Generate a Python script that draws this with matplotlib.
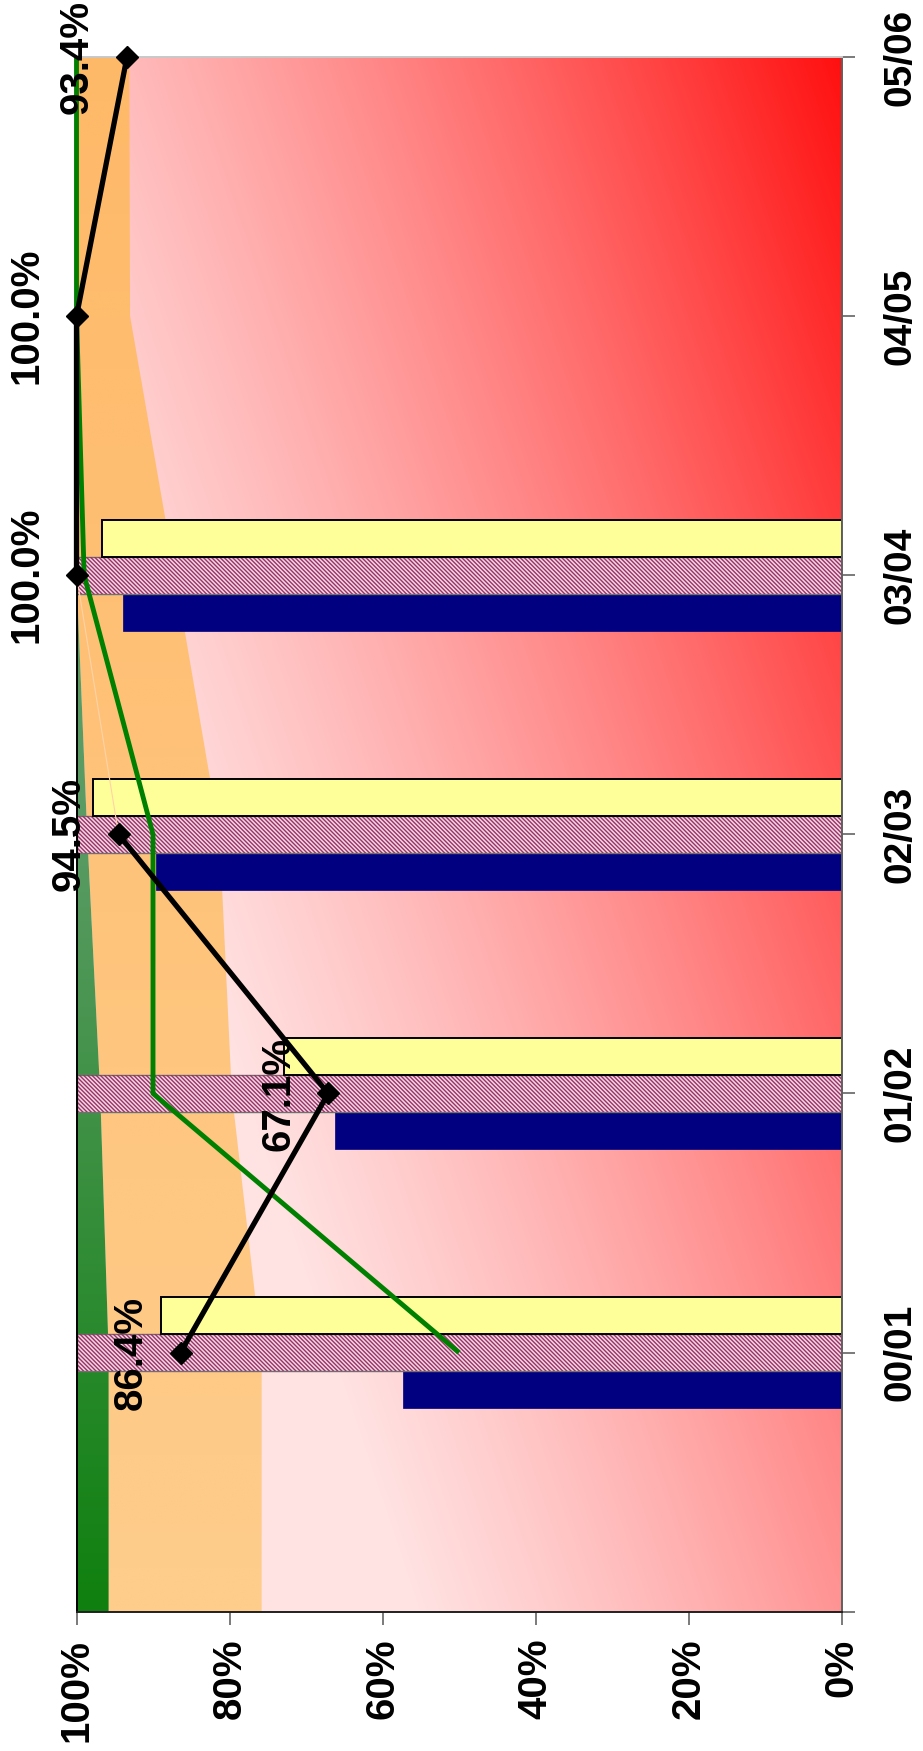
import numpy as np
import matplotlib
matplotlib.use("Agg")
import matplotlib.pyplot as plt
from matplotlib.patches import Polygon

plt.rcParams['font.family'] = ['Liberation Sans', 'DejaVu Sans']
plt.rcParams['font.weight'] = 'bold'
plt.rcParams['hatch.linewidth'] = 1.0

# categories (seasons), drawn bottom -> top
seasons = ['00/01', '01/02', '02/03', '03/04', '04/05', '05/06']
cat_pos = np.arange(1, 7)

# bar series (only first four seasons)
bar_pos = np.arange(1, 5)
navy_vals = [57.3, 66.2, 89.6, 93.9]
hatch_vals = [100.0, 100.0, 100.0, 100.0]
yellow_vals = [89.0, 72.9, 97.9, 96.7]

# line series
black_vals = [86.4, 67.1, 94.5, 100.0, 100.0, 93.4]
green_vals = [50.0, 90.0, 90.0, 99.0, 100.0, 100.0]

# background bands (area), one value per axis point 0..6
area_pos = np.arange(0, 7)
orange_edge = [75.8, 75.8, 79.7, 81.3, 87.1, 93.0, 93.1]
green_edge = [95.8, 95.8, 96.9, 98.6, 100.0, 100.0, 100.0]

value_ticks = [0, 20, 40, 60, 80, 100]

fig = plt.figure(figsize=(9.23, 17.51), dpi=100)
ax = fig.add_axes([76.5 / 923, (1751 - 1611.7) / 1751,
                   (841.5 - 76.5) / 923, (1611.7 - 57) / 1751])

# red/pink gradient behind everything
nx, ny = 300, 600
u = np.linspace(0, 1, nx)[None, :]
v = np.linspace(0, 1, ny)[:, None]
q = 0.92 * u + 0.63 * (1 - v)
r = np.minimum(q - 0.2 * q ** 2, 0.88)
c = (16 + 239 * r) / 255
bg = np.dstack([np.ones_like(c), c, c])
ax.imshow(bg, extent=(0, 100, 0, 6), origin='lower', aspect='auto',
          zorder=0, interpolation='bilinear')

# orange band with gradient
vv = np.broadcast_to(v, (ny, nx))
o_img = np.dstack([np.full_like(vv, 254 / 255),
                   (205 - 20 * vv) / 255,
                   (140 - 36 * vv) / 255])
verts = np.column_stack([np.r_[orange_edge, green_edge[::-1]],
                         np.r_[area_pos, area_pos[::-1]]])
opoly = Polygon(verts, closed=True, facecolor='none', edgecolor='none')
ax.add_patch(opoly)
im_o = ax.imshow(o_img, extent=(0, 100, 0, 6), origin='lower', aspect='auto',
                 zorder=1, interpolation='bilinear')
im_o.set_clip_path(opoly)

# green band with gradient
t = np.clip(vv / 0.5, 0, 1)
g_img = np.dstack([(15 + 75 * t) / 255, (128 + 27 * t) / 255, (15 + 85 * t) / 255])
gverts = np.column_stack([np.r_[green_edge, [100.0] * 7],
                          np.r_[area_pos, area_pos[::-1]]])
gpoly = Polygon(gverts, closed=True, facecolor='none', edgecolor='none')
ax.add_patch(gpoly)
im_g = ax.imshow(g_img, extent=(0, 100, 0, 6), origin='lower', aspect='auto',
                 zorder=1, interpolation='bilinear')
im_g.set_clip_path(gpoly)

# bars
h = 0.143
ax.barh(bar_pos - h, navy_vals, height=h, color='#000080', edgecolor='#000080',
        linewidth=0.5, zorder=3)
ax.barh(bar_pos, hatch_vals, height=h, color='#F4D6E4', edgecolor='#707070',
        linewidth=1.0, zorder=3)
ax.barh(bar_pos, hatch_vals, height=h, color='none', edgecolor='#993366',
        hatch='\\' * 8, linewidth=0, zorder=3)
ax.barh(bar_pos + h, yellow_vals, height=h, color='#FFFF99', edgecolor='black',
        linewidth=1.4, zorder=3)

# lines
ax.plot(green_vals, cat_pos, color='#008000', linewidth=3.5, zorder=5,
        solid_capstyle='butt', clip_on=False)
# faint link between 02/03 and 03/04
ax.plot(black_vals[2:4], cat_pos[2:4], color='#FFD3A8', linewidth=0.8,
        zorder=4.5, clip_on=False)
ax.plot(black_vals[:3], cat_pos[:3], color='black', linewidth=3.8, marker='D',
        markersize=11.5, zorder=6, clip_on=False)
ax.plot(black_vals[3:], cat_pos[3:], color='black', linewidth=3.8, marker='D',
        markersize=11.5, zorder=6, clip_on=False)

for p, val in zip(cat_pos, black_vals):
    ax.annotate(f'{val:.1f}%', xy=(val, p), xytext=(-36, 0),
                textcoords='offset points', rotation=90, ha='center',
                va='center', fontsize=29, fontweight='bold', zorder=7,
                annotation_clip=False)

ax.set_xlim(100, 0)
ax.set_ylim(0, 6)

ax.set_xticks(value_ticks)
ax.set_xticklabels([f'{x}%' for x in value_ticks], rotation=90,
                   fontsize=29, fontweight='bold')
ax.set_yticks(np.arange(0, 7))
ax.set_yticklabels([''] + seasons, rotation=90, fontsize=28,
                   fontweight='bold', va='center')
ax.yaxis.tick_right()
ax.tick_params(axis='x', direction='out', length=9.5, width=1.3,
               color='#707070', pad=10)
ax.tick_params(axis='y', direction='out', length=9.5, width=1.3,
               color='#707070', pad=20, left=False, right=True,
               labelleft=False, labelright=True)

ax.spines['left'].set_color('black')
ax.spines['bottom'].set_color('#202020')
ax.spines['right'].set_color('#606060')
ax.spines['top'].set_color('#C8C8C8')
for s in ax.spines.values():
    s.set_linewidth(1.4)
    s.set_zorder(4)

fig.savefig('out.png', dpi=100)
